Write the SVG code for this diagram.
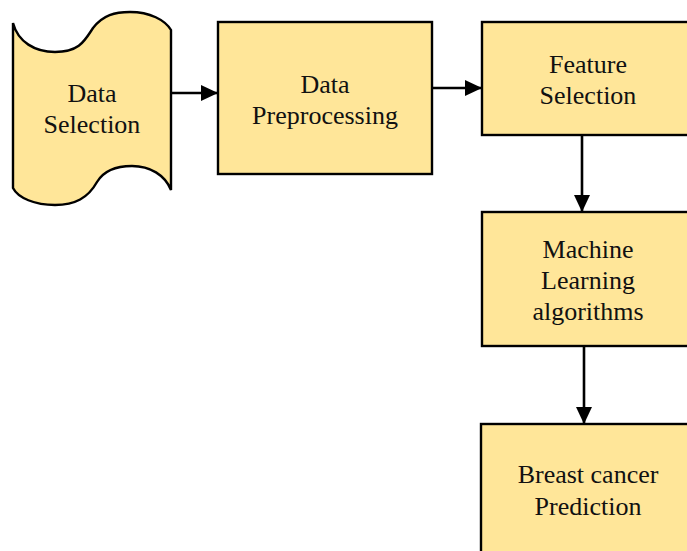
<svg xmlns="http://www.w3.org/2000/svg" width="687" height="551" viewBox="0 0 687 551">
<style>
.node{fill:#FFE699;stroke:#000;stroke-width:2.4}
.lbl{font-family:"Liberation Serif","Times New Roman",serif;font-size:26px;fill:#111;text-anchor:middle}
.conn{stroke:#000;stroke-width:2.6;fill:none;marker-end:url(#ah)}
</style>
<defs>
<marker id="ah" markerWidth="17" markerHeight="16" refX="17" refY="8" orient="auto" markerUnits="userSpaceOnUse">
<path d="M0,0 L17,8 L0,16 Z" fill="#000"/>
</marker>
</defs>
<rect width="687" height="551" fill="#fff"/>
<g id="connectors">
<line class="conn" x1="171" y1="93" x2="218" y2="93"/>
<line class="conn" x1="432" y1="88" x2="482" y2="88"/>
<line class="conn" x1="582" y1="135" x2="582" y2="212"/>
<line class="conn" x1="584" y1="346" x2="584" y2="424"/>
</g>
<g id="data-selection">
<path class="node" d="M13,23 C18,42 35,52 55,52 C80,52 85,40 93,28 C103,15 115,12 130,12 C150,12 165,20 171,30 L171,190 C165,175 150,166 132,166 C115,166 103,172 97,182 C88,198 75,205 55,205 C35,205 18,198 13,188 Z"/>
<text class="lbl" x="92" y="102">Data</text>
<text class="lbl" x="92" y="133">Selection</text>
</g>
<g id="data-preprocessing">
<rect class="node" x="218" y="22" width="214" height="152"/>
<text class="lbl" x="325" y="93">Data</text>
<text class="lbl" x="325" y="124">Preprocessing</text>
</g>
<g id="feature-selection">
<rect class="node" x="482" y="22" width="215" height="113"/>
<text class="lbl" x="588" y="73">Feature</text>
<text class="lbl" x="588" y="104">Selection</text>
</g>
<g id="ml-algorithms">
<rect class="node" x="482" y="212" width="215" height="134"/>
<text class="lbl" x="588" y="258">Machine</text>
<text class="lbl" x="588" y="289">Learning</text>
<text class="lbl" x="588" y="320">algorithms</text>
</g>
<g id="prediction">
<rect class="node" x="481" y="424" width="216" height="140"/>
<text class="lbl" x="588" y="483">Breast cancer</text>
<text class="lbl" x="588" y="515">Prediction</text>
</g>
</svg>
